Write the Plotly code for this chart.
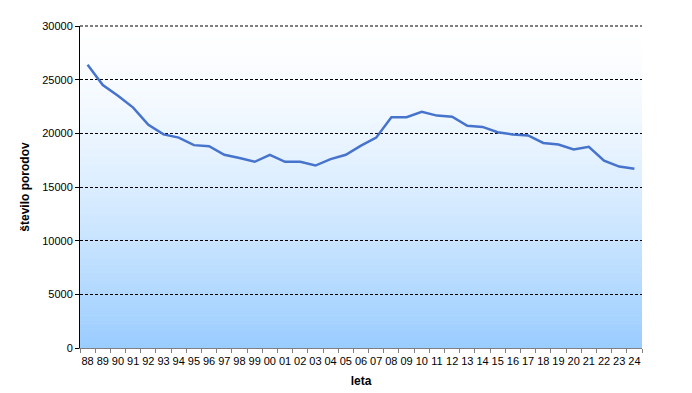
import plotly.graph_objects as go

years = ["88", "89", "90", "91", "92", "93", "94", "95", "96", "97", "98", "99",
         "00", "01", "02", "03", "04", "05", "06", "07", "08", "09", "10", "11",
         "12", "13", "14", "15", "16", "17", "18", "19", "20", "21", "22", "23", "24"]
porodi = [26400, 24500, 23500, 22400, 20800, 19900, 19600, 18900, 18800, 18000, 17700, 17350,
          18000, 17350, 17350, 17000, 17600, 18000, 18850, 19600, 21500, 21500, 22000, 21650,
          21550, 20700, 20600, 20100, 19900, 19800, 19100, 18950, 18500, 18750, 17450, 16900, 16700]
y_ticks = [0, 5000, 10000, 15000, 20000, 25000, 30000]
y_ticktext = ["0", "5000", "10000", "15000", "20000", "25000", "30000"]

FONT = "Liberation Sans, Arial, sans-serif"

fig = go.Figure()
fig.add_trace(go.Scatter(x=years, y=porodi, mode="lines",
                         line=dict(color="#4673CC", width=2.5), showlegend=False))

# gradient background (white top -> light blue bottom)
shapes = []
n = 120
top = (255, 255, 255)
bot = (153, 204, 255)
for i in range(n):
    y0 = i / n
    y1 = (i + 1) / n
    t = 1 - (y0 + y1) / 2  # 0 at top, 1 at bottom
    f = t ** 1.5
    c = tuple(round(top[k] * (1 - f) + bot[k] * f) for k in range(3))
    shapes.append(dict(type="rect", xref="x domain", yref="y domain",
                       x0=0, x1=1, y0=y0, y1=y1 + 0.002,
                       fillcolor="rgb(%d,%d,%d)" % c, line=dict(width=0),
                       layer="below"))
# top gridline at the edge of the plot area
shapes.append(dict(type="line", xref="x domain", yref="y domain",
                   x0=0, x1=1, y0=1, y1=1,
                   line=dict(color="black", width=1, dash="3px,2px"), layer="below"))

fig.update_layout(
    width=692, height=393,
    margin=dict(l=80, r=50, t=26, b=45),
    paper_bgcolor="white",
    plot_bgcolor="rgba(0,0,0,0)",
    shapes=shapes,
    font=dict(family=FONT, size=11, color="black"),
)
fig.update_xaxes(
    type="category", range=[-0.5, len(years) - 0.5], automargin=False,
    tickson="boundaries", ticks="outside", ticklen=4, tickcolor="#808080",
    showline=True, linecolor="#808080", linewidth=1, tickangle=0,
    ticklabelstandoff=3,
    showgrid=False, tickfont=dict(size=11, family=FONT),
    title=dict(text="<b>leta</b>", font=dict(size=12, family=FONT), standoff=10),
)
fig.update_yaxes(
    range=[0, 30000], tickvals=y_ticks, ticktext=y_ticktext, automargin=False,
    ticks="outside", ticklen=4, tickcolor="black",
    showline=True, linecolor="black", linewidth=1,
    showgrid=True, gridcolor="black", gridwidth=1, griddash="3px,2px",
    zeroline=False, tickfont=dict(size=11, family=FONT),
    title=dict(text="<b>število porodov</b>", font=dict(size=12, family=FONT), standoff=10),
)

fig.write_html("out.html")
